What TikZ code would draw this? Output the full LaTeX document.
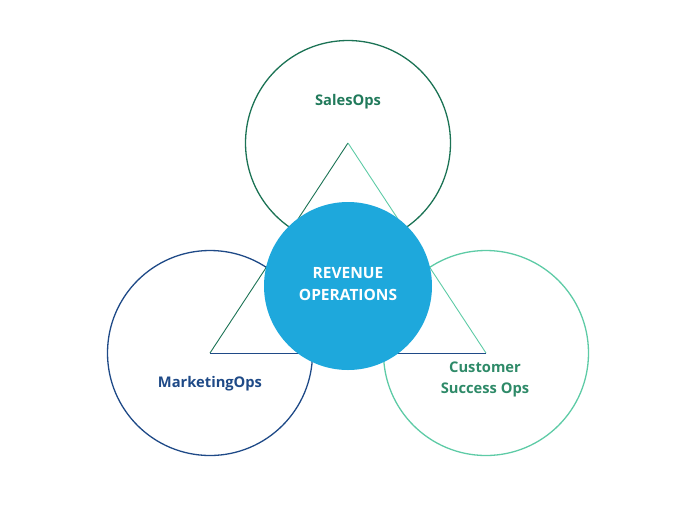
\documentclass[tikz,border=0pt]{standalone}
\usepackage{fontspec}
\setmainfont{Open Sans}
\definecolor{topc}{HTML}{1C7355}
\definecolor{leftc}{HTML}{1F4A87}
\definecolor{rightc}{HTML}{5ECBA6}
\definecolor{midc}{HTML}{1EA8DC}
\definecolor{salest}{HTML}{217A5B}
\definecolor{custt}{HTML}{2E8A68}
\begin{document}
\begin{tikzpicture}[x=1pt,y=-1pt,
  ring/.style={draw,line width=1.3pt,circle,minimum size=205pt,inner sep=0pt},
  lbl/.style={font=\fontsize{14.7}{21}\selectfont\bfseries,align=center},
  mlbl/.style={font=\fontsize{15.5}{22}\selectfont\bfseries,align=center},
  edge/.style={line width=0.9pt}]
\useasboundingbox (0,0) rectangle (696,512);
\node[ring,draw=topc] (top) at (348,143) {};
\node[ring,draw=leftc] (left) at (210,353) {};
\node[ring,draw=rightc] (right) at (486,353) {};
\draw[edge,topc] (left.center) -- (top.center);
\draw[edge,rightc] (top.center) -- (right.center);
\draw[edge,leftc] (right.center) -- (left.center);
\node[circle,fill=midc,minimum size=168pt,inner sep=0pt] (mid) at (348,286) {};
\node[mlbl,text=white] (midt) at (348,284.5) {REVENUE\\OPERATIONS};
\node[lbl,text=salest] (st) at (348,102) {SalesOps};
\node[lbl,text=leftc] (mt) at (210,384) {MarketingOps};
\node[lbl,text=custt] (ct) at (485,379) {Customer\\Success Ops};
\end{tikzpicture}
\end{document}
